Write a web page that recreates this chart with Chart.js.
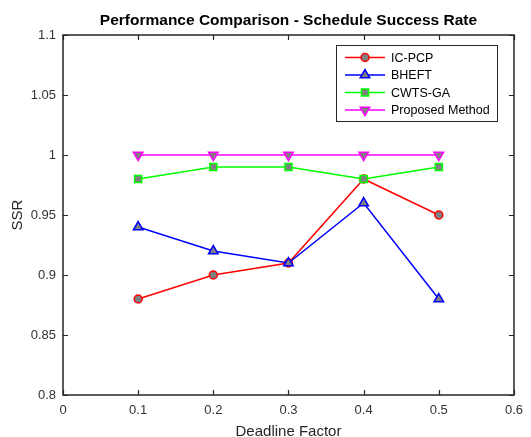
<!DOCTYPE html>
<html>
<head>
<meta charset="utf-8">
<script src="https://cdn.jsdelivr.net/npm/chart.js@4/dist/chart.umd.min.js"></script>
<style>
  html, body { margin: 0; padding: 0; background: #fff; }
  #wrap { width: 531px; height: 437px; }
</style>
</head>
<body>
<div id="wrap"><canvas id="chart" width="531" height="437"></canvas></div>
<script>
// deadline factors along x
const deadlineFactors = [0.1, 0.2, 0.3, 0.4, 0.5]

// SSR per method
const icPcp = [0.88, 0.90, 0.91, 0.98, 0.95]
const bheft = [0.94, 0.92, 0.91, 0.96, 0.88]
const cwtsGa = [0.98, 0.99, 0.99, 0.98, 0.99]
const proposed = [1, 1, 1, 1, 1]

// axis ticks
const xTicks = [0, 0.1, 0.2, 0.3, 0.4, 0.5, 0.6]
const yTicks = [0.8, 0.85, 0.9, 0.95, 1, 1.05, 1.1]

const chartTitle = 'Performance Comparison - Schedule Success Rate'

const markerFill = '#808080'
const fontFamily = '"Liberation Sans", Arial, sans-serif'

const toPoints = (ys) => deadlineFactors.map((x, i) => ({ x: x, y: ys[i] }))

const series = [
  { label: 'IC-PCP', data: icPcp, color: '#ff0000', pointStyle: 'circle', radius: 4, rotation: 0 },
  { label: 'BHEFT', data: bheft, color: '#0000ff', pointStyle: 'triangle', radius: 5.5, rotation: 0 },
  { label: 'CWTS-GA', data: cwtsGa, color: '#00ff00', pointStyle: 'rect', radius: 5, rotation: 0 },
  { label: 'Proposed Method', data: proposed, color: '#ff00ff', pointStyle: 'triangle', radius: 5.5, rotation: 180 },
]

// MATLAB style box with inward ticks, title over the axes, and the legend
const matlabAxes = {
  id: 'matlabAxes',
  afterDraw(chart) {
    const { ctx, chartArea: a, scales } = chart
    const tick = 5
    ctx.save()

    // title centred over the plot box, like MATLAB does
    ctx.fillStyle = '#000'
    ctx.font = 'bold 15.5px ' + fontFamily
    ctx.textAlign = 'center'
    ctx.textBaseline = 'middle'
    ctx.fillText(chartTitle, (a.left + a.right) / 2, 21)

    ctx.strokeStyle = '#262626'
    ctx.lineWidth = 1.5
    ctx.strokeRect(a.left, a.top, a.right - a.left, a.bottom - a.top)
    ctx.lineWidth = 1.2
    ctx.beginPath()
    xTicks.forEach(v => {
      const px = Math.round(scales.x.getPixelForValue(v)) + 0.5
      ctx.moveTo(px, a.bottom); ctx.lineTo(px, a.bottom - tick)
      ctx.moveTo(px, a.top); ctx.lineTo(px, a.top + tick)
    })
    yTicks.forEach(v => {
      const py = Math.round(scales.y.getPixelForValue(v)) + 0.5
      ctx.moveTo(a.left, py); ctx.lineTo(a.left + tick, py)
      ctx.moveTo(a.right, py); ctx.lineTo(a.right - tick, py)
    })
    ctx.stroke()

    // legend
    const lx = 336, ly = 45, lw = 161, lh = 76
    ctx.fillStyle = '#fff'
    ctx.fillRect(lx, ly, lw, lh)
    ctx.strokeStyle = '#262626'
    ctx.lineWidth = 1
    ctx.strokeRect(lx + 0.5, ly + 0.5, lw, lh)
    ctx.font = '12.5px ' + fontFamily
    ctx.textBaseline = 'middle'
    ctx.textAlign = 'left'
    series.forEach((s, i) => {
      const y = ly + 12.5 + i * 17.5
      ctx.strokeStyle = s.color
      ctx.lineWidth = 1.5
      ctx.beginPath()
      ctx.moveTo(lx + 9, y); ctx.lineTo(lx + 49, y)
      ctx.stroke()
      ctx.fillStyle = markerFill
      ctx.strokeStyle = s.color
      ctx.lineWidth = 1.5
      Chart.helpers.drawPoint(ctx, { pointStyle: s.pointStyle, radius: s.radius, rotation: s.rotation, borderWidth: 1.5 }, lx + 29, y)
      ctx.fillStyle = '#000'
      ctx.fillText(s.label, lx + 55, y + 1)
    })
    ctx.restore()
  }
}

const ctx = document.getElementById('chart').getContext('2d')

new Chart(ctx, {
  type: 'line',
  data: {
    datasets: series.map((s, i) => ({
      label: s.label,
      data: toPoints(s.data),
      borderColor: s.color,
      backgroundColor: markerFill,
      borderWidth: 1.5,
      pointStyle: s.pointStyle,
      pointRadius: s.radius,
      pointRotation: s.rotation,
      pointBorderColor: s.color,
      pointBackgroundColor: markerFill,
      pointBorderWidth: 1.5,
      tension: 0,
      fill: false,
      order: series.length - i,
    })),
  },
  options: {
    responsive: false,
    animation: false,
    layout: { padding: { top: 35, right: 17, bottom: 0, left: 0 } },
    plugins: {
      legend: { display: false },
      tooltip: { enabled: false },
      title: { display: false },
    },
    scales: {
      x: {
        type: 'linear',
        min: 0,
        max: 0.6,
        grid: { display: false, drawTicks: false },
        border: { display: false },
        afterBuildTicks: (scale) => { scale.ticks = xTicks.map(v => ({ value: v })) },
        afterFit: (scale) => { scale.height = 42 },
        ticks: {
          color: '#333',
          padding: 8,
          maxRotation: 0,
          font: { family: fontFamily, size: 13 },
          callback: (v) => String(v),
        },
        title: {
          display: true,
          text: 'Deadline Factor',
          color: '#262626',
          font: { family: fontFamily, size: 15, lineHeight: '10px' },
          padding: { top: 0, bottom: 0 },
        },
      },
      y: {
        type: 'linear',
        min: 0.8,
        max: 1.1,
        grid: { display: false, drawTicks: false },
        border: { display: false },
        afterBuildTicks: (scale) => { scale.ticks = yTicks.map(v => ({ value: v })) },
        afterFit: (scale) => { scale.width = 63 },
        ticks: {
          color: '#333',
          padding: 7,
          font: { family: fontFamily, size: 13 },
          callback: (v) => String(v),
        },
        title: {
          display: true,
          text: 'SSR',
          color: '#262626',
          font: { family: fontFamily, size: 15, lineHeight: 1.2 },
          padding: { top: 9, bottom: 0 },
        },
      },
    },
  },
  plugins: [matlabAxes],
})
</script>
</body>
</html>
